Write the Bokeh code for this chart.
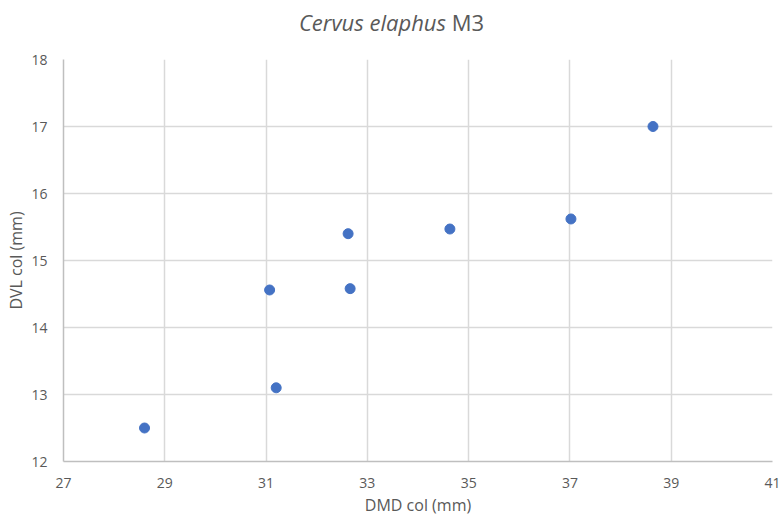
from bokeh.plotting import figure
from bokeh.models import Range1d, FixedTicker, ColumnDataSource, Div
from bokeh.layouts import column
from bokeh.embed import file_html
from bokeh.resources import INLINE

dmd = [28.6, 31.07, 31.2, 32.62, 32.66, 34.63, 37.02, 38.64]
dvl = [12.5, 14.56, 13.1, 15.4, 14.58, 15.47, 15.62, 17.0]
x_ticks = [27, 29, 31, 33, 35, 37, 39, 41]
y_ticks = [12, 13, 14, 15, 16, 17, 18]
title_italic = "Cervus elaphus"
title_rest = "M3"

TXT = "#595959"
FONT = "Open Sans"
TITLE_H = 44

title = Div(text=f"<i>{title_italic}</i> {title_rest}", width=783, height=TITLE_H,
            margin=(0, 0, 0, 0),
            styles={"font-family": FONT, "font-size": "22px", "color": TXT,
                    "text-align": "center", "line-height": f"{TITLE_H}px",
                    "width": "783px", "background": "white"})

p = figure(width=783, height=518 - TITLE_H, output_backend="svg", toolbar_location=None,
           x_range=Range1d(27, 41), y_range=Range1d(12, 18),
           min_border_left=63, min_border_right=11, min_border_top=59 - TITLE_H,
           min_border_bottom=56, margin=(0, 0, 0, 0))
p.outline_line_color = None
p.background_fill_color = "white"
p.border_fill_color = "white"

src = ColumnDataSource(dict(x=dmd, y=dvl))
p.scatter("x", "y", source=src, size=10, color="#4472c4", line_color="#4472c4")

p.xaxis.ticker = FixedTicker(ticks=x_ticks)
p.yaxis.ticker = FixedTicker(ticks=y_ticks)
for ax in (p.xaxis[0], p.yaxis[0]):
    ax.axis_line_color = "#bfbfbf"
    ax.axis_line_width = 1.5
    ax.major_tick_line_color = None
    ax.minor_tick_line_color = None
    ax.major_label_text_font = FONT
    ax.major_label_text_font_size = "14px"
    ax.major_label_text_color = TXT
    ax.axis_label_text_font = FONT
    ax.axis_label_text_font_size = "16px"
    ax.axis_label_text_color = TXT
    ax.axis_label_text_font_style = "normal"
p.xaxis.axis_label = "DMD col (mm)"
p.yaxis.axis_label = "DVL col (mm)"
p.xaxis.major_label_standoff = 10
p.xaxis.axis_label_standoff = 3
p.yaxis.major_label_standoff = 10
p.yaxis.axis_label_standoff = 1

p.xgrid.ticker = FixedTicker(ticks=x_ticks)
p.ygrid.ticker = FixedTicker(ticks=y_ticks)
p.grid.grid_line_color = "#d9d9d9"
p.grid.grid_line_width = 1.5

layout = column(title, p, spacing=0, margin=(0, 0, 0, 0))

open("out.html", "w").write(file_html(layout, INLINE))
